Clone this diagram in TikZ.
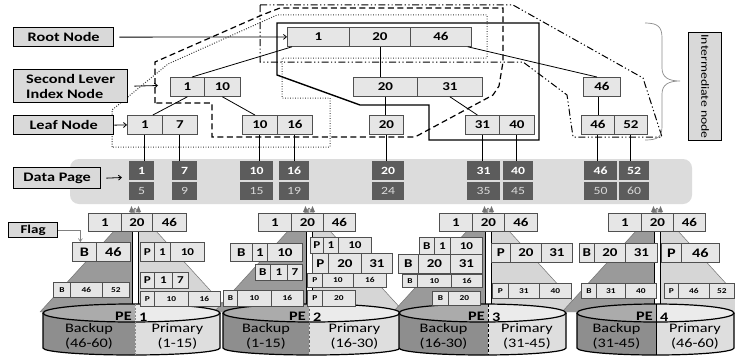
\documentclass[tikz,border=0pt]{standalone}
\usepackage{fontspec}
\setmainfont{Carlito}[FakeStretch=1.25]
\usetikzlibrary{arrows.meta}
\definecolor{lblfill}{HTML}{D9D9D9}
\definecolor{cellfill}{HTML}{E6E6E6}
\definecolor{cellline}{HTML}{505050}
\definecolor{datafill}{HTML}{5C5C5C}
\definecolor{pagebg}{HTML}{DCDCDC}
\definecolor{tridark}{HTML}{9A9A9A}
\definecolor{trilight}{HTML}{D6D6D6}
\definecolor{cylL}{HTML}{8E8E8E}
\definecolor{cylR}{HTML}{DEDEDE}
\definecolor{cylTL}{HTML}{ABABAB}
\definecolor{cylTR}{HTML}{EBEBEB}
\newcommand\cellrow[4]{%
  \foreach \xa/\xb/\lab/\nm in {#4}{%
    \pgfmathsetmacro\ww{\xb-\xa}%
    \node[#1, minimum width=\ww pt, minimum height=#3pt] (\nm) at (\xa,#2) {\lab};
  }}
\newcommand\pyr[1]{%
  \fill[tridark] (#1,208) -- (#1-95,312) -- (#1,312) -- cycle;
  \fill[trilight] (#1,208) -- (#1+95,312) -- (#1,312) -- cycle;
  \draw[black!55, line width=0.5pt] (#1-95,312) -- (#1,208) -- (#1+95,312);
  \fill[white] (#1-3,228) rectangle (#1+3,312);
  \draw[line width=0.6pt] (#1-3,228) -- (#1-3,312) (#1+3,228) -- (#1+3,312);
  \fill[black!55] (#1-6,212) -- (#1-3.5,206) -- (#1-1,212) -- cycle;
  \fill[black!55] (#1+1,212) -- (#1+3.5,206) -- (#1+6,212) -- cycle;
}
\newcommand\cyl[7]{%
  \pgfmathsetmacro\cx{(#1+#2)/2}%
  \pgfmathsetmacro\rx{(#2-#1)/2}%
  \begin{scope}
    \clip (#1-3,295) rectangle (#3,361);
    \fill[cylL] (#1,313) -- (#1,348) arc[start angle=180,end angle=360,x radius=\rx pt,y radius=7pt] -- (#2,313) -- cycle;
    \fill[cylTL] (\cx,313) ellipse[x radius=\rx pt,y radius=9pt];
  \end{scope}
  \begin{scope}
    \clip (#3,295) rectangle (#2+3,361);
    \fill[cylR] (#1,313) -- (#1,348) arc[start angle=180,end angle=360,x radius=\rx pt,y radius=7pt] -- (#2,313) -- cycle;
    \fill[cylTR] (\cx,313) ellipse[x radius=\rx pt,y radius=9pt];
  \end{scope}
  \draw[line width=1.2pt] (#1,313) -- (#1,348) arc[start angle=180,end angle=360,x radius=\rx pt,y radius=7pt] -- (#2,313);
  \draw[line width=1.2pt] (\cx,313) ellipse[x radius=\rx pt,y radius=9pt];
  \draw[#7] (#3,304) -- (#3,355);
  \node[cylbold, anchor=east] (pe#4) at (#3-3,316) {PE};
  \node[cylbold, anchor=west] (pen#4) at (#3+4,317) {#4};
  \node[cyltext] (bk#4) at ({(#1+#3)/2},329) {Backup};
  \node[cyltext] (bkr#4) at ({(#1+#3)/2},344) {(#5)};
  \node[cyltext] (pr#4) at ({(#3+#2)/2},329) {Primary};
  \node[cyltext] (prr#4) at ({(#3+#2)/2},344) {(#6)};
}
\begin{document}
\begin{tikzpicture}[x=1pt,y=-1pt,
  lblbox/.style={draw=black, line width=1.3pt, fill=lblfill, font=\bfseries\fontsize{13}{15}\selectfont, inner sep=0pt, anchor=north west},
  tcell/.style={draw=cellline, line width=0.8pt, fill=cellfill, font=\bfseries\fontsize{12}{12}\selectfont, inner sep=0pt, anchor=north west},
  p13/.style={tcell, font=\bfseries\fontsize{13}{13}\selectfont},
  p12/.style={tcell},
  p11/.style={tcell, font=\bfseries\fontsize{10.5}{11}\selectfont},
  p8/.style={tcell, font=\bfseries\fontsize{7.5}{8}\selectfont},
  dtop/.style={fill=datafill, text=white, font=\bfseries\fontsize{11}{11}\selectfont, inner sep=0pt, anchor=north west},
  dbot/.style={dtop, text=white!85!black, font=\fontsize{11}{11}\selectfont},
  conn/.style={line width=0.8pt, black},
  lead/.style={line width=0.8pt, -{Straight Barb[length=3pt,width=5pt]}},
  solidreg/.style={line width=1.4pt},
  dashreg/.style={line width=1.2pt, dash pattern=on 6pt off 3.5pt},
  dashdotreg/.style={line width=1pt, dash pattern=on 7pt off 2.5pt on 1.2pt off 2.5pt on 1.2pt off 2.5pt},
  dotreg/.style={line width=1pt, dash pattern=on 0.9pt off 1.6pt, black!80},
  cyltext/.style={font=\fontsize{13}{13}\selectfont, inner sep=0pt},
  cylbold/.style={font=\bfseries\fontsize{13}{13}\selectfont, inner sep=0pt}]
\useasboundingbox (0,0) rectangle (735,361);
\fill[white] (0,0) rectangle (735,361);

% data page background
\fill[pagebg, rounded corners=9pt] (70,159) rectangle (692,204);

% regions
\draw[dashdotreg] (260,5) -- (513,5) -- (643,78) -- (662,137) -- (573,137) -- (567,95) -- (523,62) -- (260,62) -- cycle;
\draw[dashreg] (155,103) -- (155,62) -- (262,15) -- (280,8) -- (503,8) -- (503,62) -- (499,86) -- (493,95) -- (415,137) -- (212,137) -- (212,103) -- cycle;
\draw[dotreg] (112,147) -- (112,110) -- (168,64) -- (277,15) -- (487,15) -- (487,58) -- (282,58) -- (282,98) -- (330,98) -- (330,147) -- cycle;
\draw[solidreg] (277,23) -- (539,23) -- (539,140) -- (429,140) -- (429,105) -- (360,105) -- (277,75) -- cycle;

% brace
\draw[black!45, line width=0.7pt] (645,23) .. controls (658,23) and (662,27) .. (662,38) -- (662,68) .. controls (662,77) and (668,81) .. (680,81) .. controls (668,81) and (662,85) .. (662,94) -- (662,126) .. controls (662,137) and (658,140) .. (645,140);

% labels
\node[lblbox, minimum width=100pt, minimum height=19pt] (rootlbl) at (13,27) {Root Node};
\node[lblbox, minimum width=114pt, minimum height=33pt, align=left] (sllbl) at (13,69) {Second Lever\\Index Node};
\node[lblbox, minimum width=100pt, minimum height=19pt] (leaflbl) at (13,115) {Leaf Node};
\node[lblbox, minimum width=87pt, minimum height=21pt] (dplbl) at (13,167) {Data Page};
\node[lblbox, minimum width=49pt, minimum height=15pt, font=\bfseries\fontsize{12}{12}\selectfont] (flaglbl) at (8,222) {Flag};
\node[lblbox, minimum width=33pt, minimum height=108pt] (intlbl) at (688,32) {};
\node[rotate=-90, font=\fontsize{11}{11}\selectfont, inner sep=0pt] (inttxt) at (intlbl.center) {Intermediate node};

% tree
\cellrow{tcell}{27}{19}{287/349/1/r1, 349/410/20/r20, 410/471/46/r46}
\cellrow{tcell}{77}{19}{170/204/1/sa1, 204/240/10/sa10, 353/417/20/sb20, 417/482/31/sb31, 583/620/46/sc46}
\cellrow{tcell}{115}{19}{127/162/1/la1, 162/197/7/la7, 242/277/10/lb10, 277/312/16/lb16, 369/403/20/lc20, 465/499/31/ld31, 499/534/40/ld40, 581/614/46/le46, 614/647/52/le52}

% data page
\cellrow{dtop}{161}{19}{129/154/1/d1, 172/197/7/d7, 240/273/10/d10, 279/309/16/d16, 372/404/20/d20, 467/500/31/d31, 503/533/40/d40, 584/617/46/d46, 619/649/52/d52}
\cellrow{dbot}{182}{18}{129/154/5/e5, 172/197/9/e9, 240/273/15/e15, 279/309/19/e19, 372/404/24/e24, 467/500/35/e35, 503/533/45/e45, 584/617/50/e50, 619/649/60/e60}

% tree edges
\draw[conn] ([xshift=5pt]r1.south west) -- ([xshift=22pt]sa1.north west);
\draw[conn] (r20.south) -- (r20.south |- sb20.north);
\draw[conn] ([xshift=-4pt]r46.south east) -- ([xshift=-5pt]sc46.north);
\draw[conn] (sa1.south) -- ([xshift=8pt]la1.north);
\draw[conn] (sa10.south) -- ([xshift=-5pt]lb10.north);
\draw[conn] (sb20.south) -- (sb20.south |- lc20.north);
\draw[conn] (sb31.south) -- ([xshift=-5pt]ld31.north);
\draw[conn] (le46.north |- sc46.south) -- (le46.north);
\foreach \a/\b in {la1/d1, la7/d7, lb10/d10, lb16/d16, lc20/d20, ld31/d31, ld40/d40, le46/d46, le52/d52}
  \draw[line width=1pt] (\a.south) -- (\a.south |- \b.north);

% label arrows
\coordinate (slend) at (158,85.5);
\coordinate (dpend) at (122,177.5);
\draw[lead] ([xshift=5pt]rootlbl.east) -- (r1.west);
\draw[lead] ([xshift=6pt]sllbl.east) -- (slend);
\draw[lead] (leaflbl.east) -- (la1.west);
\draw[lead] ([xshift=5pt]dplbl.east) -- (dpend);

% PE units
\pyr{135}
\pyr{309}
\pyr{488}
\pyr{657}
\cyl{43}{220}{135}{1}{46-60}{1-15}{black!45, line width=0.8pt, dash pattern=on 2pt off 1.5pt}
\cyl{223}{400}{309}{2}{1-15}{16-30}{black!60, line width=0.8pt, dash pattern=on 2.5pt off 2pt}
\cyl{399}{566}{488}{3}{16-30}{31-45}{black, line width=1pt, dash pattern=on 3pt off 2pt}
\cyl{577}{734}{656}{4}{31-45}{46-60}{black, line width=1pt}

% PE1
\cellrow{p12}{213}{18}{88/121/1/a1, 121/152/20/a2, 152/186/46/a3}
\cellrow{p13}{242}{19}{72/96/B/aB, 96/130/46/a46}
\cellrow{p11}{242}{19}{140/154/P/aP1, 154/170/1/aP1b, 170/204/10/aP1c}
\cellrow{p11}{272}{16}{140/154/P/aP2, 154/172/1/aP2b, 172/188/7/aP2c}
\cellrow{p8}{291}{15}{140/154/P/aP3, 154/188/10/aP3b, 188/220/16/aP3c}
\cellrow{p8}{282}{15}{53/70/B/aB2, 70/102/46/aB2b, 102/129/52/aB2c}
% PE2
\cellrow{p12}{213}{18}{258/291/1/b1, 291/323/20/b2, 323/355/46/b3}
\cellrow{p12}{243}{18}{230/252/B/bB1, 252/267/1/bB1b, 267/302/10/bB1c}
\cellrow{p11}{264}{16}{255/270/B/bB2, 270/287/1/bB2b, 287/302/7/bB2c}
\cellrow{p8}{290}{16}{223/237/B/bB3, 237/271/10/bB3b, 271/303/16/bB3c}
\cellrow{p11}{237}{16}{310/323/P/bP1, 323/338/1/bP1b, 338/371/10/bP1c}
\cellrow{p12}{253}{20}{312/328/P/bP2, 328/361/20/bP2b, 361/392/31/bP2c}
\cellrow{p8}{273}{14}{307/322/P/bP3, 322/353/10/bP3b, 353/386/16/bP3c}
\cellrow{p8}{290}{16}{307/322/P/bP4, 322/355/20/bP4b}
% PE3
\cellrow{p12}{213}{18}{439/472/1/c1, 472/504/20/c2, 504/537/46/c3}
\cellrow{p11}{237}{17}{419/434/B/cB1, 434/450/1/cB1b, 450/482/10/cB1c}
\cellrow{p12}{254}{19}{398/418/B/cB2, 418/450/20/cB2b, 450/482/31/cB2c}
\cellrow{p8}{274}{13}{402/417/B/cB3, 417/451/10/cB3b, 451/482/16/cB3c}
\cellrow{p8}{291}{14}{432/448/B/cB4, 448/480/20/cB4b}
\cellrow{p12}{243}{19}{491/510/P/cP1, 510/541/20/cP1b, 541/572/31/cP1c}
\cellrow{p8}{283}{15}{492/508/P/cP2, 508/539/31/cP2b, 539/571/40/cP2c}
% PE4
\cellrow{p12}{213}{18}{608/641/1/f1, 641/673/20/f2, 673/705/46/f3}
\cellrow{p12}{243}{19}{579/594/B/fB1, 594/625/20/fB1b, 625/657/31/fB1c}
\cellrow{p13}{243}{19}{661/681/P/fP1, 681/719/46/fP1b}
\cellrow{p8}{283}{15}{581/596/B/fB2, 596/625/31/fB2b, 625/656/40/fB2c}
\cellrow{p8}{283}{15}{664/678/P/fP2, 678/709/46/fP2b, 709/734/52/fP2c}

% flag arrow
\draw[black!50, line width=0.6pt, -{Straight Barb[length=3pt,width=4pt]}] (flaglbl.east) -| ([xshift=-4pt]aB.north);
\end{tikzpicture}
\end{document}
